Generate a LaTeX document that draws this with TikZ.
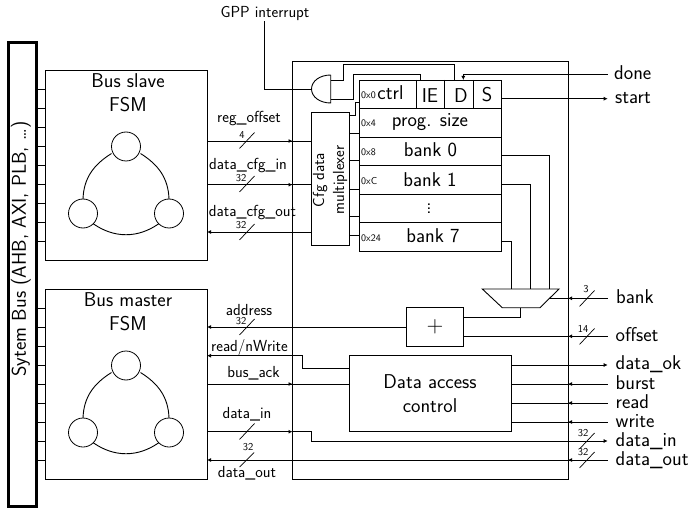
\documentclass[tikz,border=0pt]{standalone}
\usetikzlibrary{arrows.meta}
\renewcommand{\familydefault}{\sfdefault}
\tikzset{
  bx/.style={draw,rectangle,inner sep=0pt,outer sep=0pt,line width=.9pt},
  ln/.style={line width=.9pt},
  sig/.style={line width=.9pt},
  tipin/.style={line width=.9pt,-{Latex[length=4pt,width=4pt]}},
  lab/.style={inner sep=0pt,font=\fontsize{16}{18}\selectfont},
  lbl/.style={inner sep=0pt,font=\fontsize{20}{24}\selectfont},
  big/.style={inner sep=0pt,font=\fontsize{20}{24}\selectfont,align=center},
  num/.style={inner sep=0pt,font=\fontsize{10.5}{12}\selectfont},
  addr/.style={inner sep=0pt,font=\fontsize{10}{11}\selectfont,anchor=west},
  st/.style={draw,circle,inner sep=0pt,outer sep=0pt,minimum size=29pt,line width=.8pt},
  slashm/.style={line width=.7pt},
}
\newcommand{\slashmark}[2]{\draw[slashm] (#1-7.5,#2+8) -- (#1+7.5,#2-8);}
\newcommand{\fsm}[2]{%
  \node[st] (#1a) at (126,#2) {};
  \node[st] (#1b) at (83,#2+67) {};
  \node[st] (#1c) at (169,#2+67) {};
  \draw[ln] (#1b.north) to[out=88,in=212] (#1a.west |- 0,#2+7);
  \draw[ln] (#1c.north) to[out=92,in=-32] (#1a.east |- 0,#2+7);
  \draw[ln] (#1b.south east) to[out=-35,in=-145] (#1c.south west);
}
\begin{document}
\begin{tikzpicture}[x=1pt,y=-1pt]
\useasboundingbox (0,0) rectangle (692,510);
% system bus
\node[draw,rectangle,inner sep=0pt,outer sep=0pt,line width=3pt,minimum width=28pt,minimum height=463pt] (bus) at (22,274.5) {};
\node[big,rotate=90] (bustxt) at (21,249) {Sytem Bus (AHB, AXI, PLB, \dots)};
% FSM boxes
\node[bx,minimum width=162pt,minimum height=190pt] (slave) at (126,165) {};
\node[bx,minimum width=162pt,minimum height=190pt] (master) at (126,384) {};
\node[big] (slavetxt) at (128,93) {Bus slave\\FSM};
\node[big] (mastertxt) at (128,312) {Bus master\\FSM};
\foreach \y in {89,108,...,242} \draw[ln] (bus.east |- 0,\y) -- (slave.west |- 0,\y);
\foreach \y in {308,327,...,461} \draw[ln] (bus.east |- 0,\y) -- (master.west |- 0,\y);
\fsm{s}{146.5}
\fsm{m}{365.5}
% core box
\node[bx,minimum width=275.5pt,minimum height=418pt] (core) at (430.25,270) {};
% mux
\node[bx,minimum width=38.2pt,minimum height=132.7pt] (cfg) at (330.4,178.7) {};
\node[inner sep=0pt,rotate=90,align=center,font=\fontsize{16}{20}\selectfont] (cfgtxt) at (330,180) {Cfg data\\multiplexer};
% registers
\node[bx,minimum width=142.7pt,minimum height=28.5pt] (rctrl) at (430.35,94.25) {};
\node[bx,minimum width=142.7pt,minimum height=28.5pt] (rprog) at (430.35,122.75) {};
\node[bx,minimum width=142.7pt,minimum height=28.5pt] (rb0) at (430.35,151.25) {};
\node[bx,minimum width=142.7pt,minimum height=28.5pt] (rb1) at (430.35,179.75) {};
\node[bx,minimum width=142.7pt,minimum height=28.5pt] (rdots) at (430.35,208.25) {};
\node[bx,minimum width=142.7pt,minimum height=28.5pt] (rb7) at (430.35,236.75) {};
\draw[ln] (416,80) -- (416,108.5);
\draw[ln] (444.4,80) -- (444.4,108.5);
\draw[ln] (473,80) -- (473,108.5);
\node[lbl] (tctrl) at (390.5,93) {ctrl};
\node[lbl] (tie) at (430,95.5) {IE};
\node[lbl] (td) at (461,95.5) {D};
\node[lbl] (ts) at (487,95) {S};
\node[lbl] (tprog) at (430,122) {prog. size};
\node[lbl] (tb0) at (430.5,150) {bank 0};
\node[lbl] (tb1) at (430,180) {bank 1};
\node[lbl] (tdots) at (429,206) {$\vdots$};
\node[lbl] (tb7) at (433,236) {bank 7};
\node[addr] (a0) at (361,95.5) {0x0};
\node[addr] (a4) at (361,123.5) {0x4};
\node[addr] (a8) at (361,152) {0x8};
\node[addr] (ac) at (361,181) {0xC};
\node[addr] (a24) at (361,238.5) {0x24};
% AND gate
\coordinate (andtop) at (330.7,75);
\coordinate (andbot) at (330.7,103);
\coordinate (andout) at (311.5,89);
\draw[ln] (andtop) -- (andbot) .. controls (320,103) and (311.5,97) .. (andout) .. controls (311.5,81) and (320,75) .. (andtop);
\node[lab] (gpp) at (265,14) {GPP interrupt};
\draw[ln] (andout) -- (264,89) -- (gpp.south -| 264,0);
\draw[ln] (330.7,80) -- (343,80) -- (343,64.5) -- (454.3,64.5) -- (rctrl.north -| 454.3,0);
\draw[ln] (330.7,99) -- (353.3,99) -- (353.3,74) -- (420,74) -- (rctrl.north -| 420,0);
% mux to regs
\draw[ln] (cfg.east |- 0,115.7) -- (355.7,115.7) -- (355.7,102.7) -- (rctrl.west |- 0,102.7);
\foreach \y in {133.3,160.7,189,216.7,235.7} \draw[ln] (cfg.east |- 0,\y) -- (rprog.west |- 0,\y);
% bank mux
\coordinate (mtl) at (482.3,289); \coordinate (mtr) at (559,289);
\coordinate (mbr) at (540,307.7); \coordinate (mbl) at (502.3,307.7);
\draw[ln] (mtl) -- (mtr) -- (mbr) -- (mbl) -- cycle;
\draw[ln] (rb0.east |- 0,155.7) -- (549.3,155.7) -- (mtl -| 549.3,0);
\draw[ln] (rb1.east |- 0,184) -- (530.3,184) -- (mtl -| 530.3,0);
\draw[ln] (rb7.east |- 0,241) -- (511,241) -- (mtl -| 511,0);
% adder
\node[bx,minimum width=57.4pt,minimum height=38.3pt] (add) at (435,326.85) {};
\node[inner sep=0pt,font=\fontsize{23}{24}\selectfont] (plus) at (435,327) {+};
\draw[ln] (mbl -| 520.7,0) -- (520.7,317.3) -- (add.east |- 0,317.3);
% data access
\node[bx,minimum width=162pt,minimum height=76.4pt] (dac) at (430.3,393.5) {};
\node[big] (dactxt) at (430,394) {Data access\\control};
% external end points
\coordinate (xdone) at (607.7,74.5);
\coordinate (xstart) at (607.7,98.7);
\coordinate (xbank) at (607.7,298.3);
\coordinate (xoff) at (607.7,336.3);
\coordinate (xok) at (607.7,365);
\coordinate (xburst) at (607.7,384);
\coordinate (xread) at (607.7,403);
\coordinate (xwrite) at (607.7,422);
\coordinate (xin) at (607.7,441);
\coordinate (xout) at (607.7,460);
% right signals
\draw[tipin] (xdone) -- (463.3,74.5) -- (rctrl.north -| 463.3,0);
\draw[tipin] (rctrl.east |- xstart) -- (xstart);
\draw[ln] (xbank) -- (549.4,298.3);
\draw[tipin] (xbank) -- (core.east |- xbank);
\draw[ln] (xoff) -- (add.east |- xoff);
\draw[tipin] (xoff) -- (core.east |- xoff);
\draw[tipin] (dac.east |- xok) -- (xok);
\foreach \c in {xburst,xread,xwrite} {
  \draw[ln] (\c) -- (dac.east |- \c);
  \draw[tipin] (\c) -- (core.east |- \c);
}
\draw[ln] (xout) -- (core.east |- xout);
\draw[tipin] (xout) -- (core.east |- xout);
\node[lbl,anchor=base west] (ldone) at (614,79.5) {done};
\node[lbl,anchor=base west] (lstart) at (615,104) {start};
\node[lbl,anchor=base west] (lbank) at (616,303) {bank};
\node[lbl,anchor=base west] (loff) at (615.5,341.5) {offset};
\node[lbl,anchor=base west] (lok) at (615.5,369.5) {data\_ok};
\node[lbl,anchor=base west] (lburst) at (615.5,389) {burst};
\node[lbl,anchor=base west] (lread) at (615.5,408) {read};
\node[lbl,anchor=base west] (lwrite) at (615.5,427) {write};
\node[lbl,anchor=base west] (lin) at (615.5,446) {data\_in};
\node[lbl,anchor=base west] (lout) at (615.5,465) {data\_out};
\slashmark{587}{298.5}
\slashmark{587}{336.5}
\slashmark{587}{441}
\slashmark{587}{460}
\node[num] (n3) at (586,289.5) {3};
\node[num] (n14) at (583,329) {14};
\node[num] (n32a) at (583,433.5) {32};
\node[num] (n32b) at (583,452.5) {32};
% slave signals
\draw[ln] (slave.east |- 0,141) -- (cfg.west |- 0,141);
\draw[tipin] (slave.east |- 0,141) -- (core.west |- 0,141);
\draw[ln] (slave.east |- 0,184.7) -- (cfg.west |- 0,184.7);
\draw[tipin] (slave.east |- 0,184.7) -- (core.west |- 0,184.7);
\draw[tipin] (cfg.west |- 0,232) -- (slave.east |- 0,232);
\node[lab] (lreg) at (249,119) {reg\_offset};
\node[lab] (lcfgi) at (248,165.5) {data\_cfg\_in};
\node[lab] (lcfgo) at (252.5,213) {data\_cfg\_out};
\slashmark{247}{140.5}
\slashmark{247}{184}
\slashmark{247}{232}
\node[num] (n4) at (242,135) {4};
\node[num] (n32c) at (241,178.5) {32};
\node[num] (n32d) at (241,225.5) {32};
% master signals
\draw[tipin] (add.west |- 0,327) -- (master.east |- 0,327);
\draw[tipin] (dac.west |- 0,368.3) -- (302,368.3) -- (302,355.7) -- (master.east |- 0,355.7);
\draw[ln] (master.east |- xburst) -- (dac.west |- xburst);
\draw[tipin] (master.east |- xburst) -- (core.west |- xburst);
\draw[tipin] (master.east |- 0,431.7) -- (core.west |- 0,431.7);
\draw[tipin] (core.west |- 0,431.7) -- (311.7,431.7) -- (311.7,441) -- (xin);
\draw[tipin] (xout) -- (master.east |- xout);
\node[lab] (laddr) at (249,310) {address};
\node[lab] (lrnw) at (249.5,347.5) {read/nWrite};
\node[lab] (lack) at (253.5,373.5) {bus\_ack};
\node[lab] (ldin) at (247,414) {data\_in};
\node[lab] (ldout) at (247,473) {data\_out};
\slashmark{247}{327}
\slashmark{247}{431.5}
\draw[slashm] (239.5,467) -- (254,452.5);
\node[num] (n32e) at (241,321) {32};
\node[num] (n32f) at (248,447) {32};
\end{tikzpicture}
\end{document}
